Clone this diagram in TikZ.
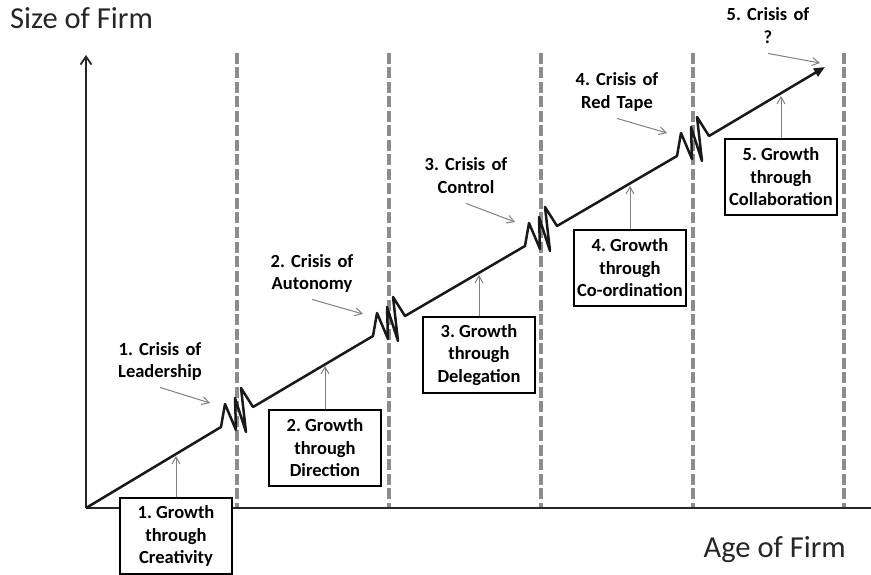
\documentclass[tikz,border=0pt]{standalone}
\usepackage{fontspec}
\setmainfont{Carlito}
\frenchspacing
\usetikzlibrary{arrows.meta}

\begin{document}
\begin{tikzpicture}
  [x=1pt,y=-1pt,
   axis/.style={line width=1.8pt,black!85},
   phase/.style={line width=3.5pt,black!45,dash pattern=on 11pt off 3.5pt},
   growth/.style={line width=2.5pt,black!90,line join=round},
   callout/.style={line width=1pt,black!50,-{Straight Barb[length=7pt,width=8pt]}},
   gbox/.style={draw,fill=white,line width=1.4pt,minimum width=112pt,minimum height=76pt,inner sep=2pt,align=center,font=\bfseries\fontsize{18.5}{22.5}\selectfont},
   crisis/.style={text width=100pt,align=center,anchor=base,inner sep=3pt,font=\bfseries\fontsize{18.5}{22.5}\selectfont,execute at end node=\strut},
   title/.style={inner sep=0pt,text=black!85,font=\fontsize{30.5}{36}\selectfont}]
  \useasboundingbox (0,0) rectangle (871,575);

  \node[title,anchor=base west] (ylab) at (10,29) {Size of Firm};
  \node[title,anchor=base east] (xlab) at (846,557) {Age of Firm};

  \foreach \x in {237,389,541,693,844}
    \draw[phase] (\x,53) -- (\x,508);

  \coordinate (O) at (86,508);
  \coordinate (ytop) at (86,55);
  \coordinate (xend) at (871,508);
  \draw[axis,-{Straight Barb[length=8pt,width=11pt]}] (O) -- (ytop);
  \draw[axis] (O) -- (xend);

  \coordinate (s1) at (221,427);
  \coordinate (s2) at (373,336);
  \coordinate (s3) at (525,246);
  \coordinate (s4) at (677,156);
  \coordinate (tip) at (825,67);
  \draw[growth,-{Triangle[length=11pt,width=9pt]}] (O)
    \foreach \i in {1,...,4}{ -- (s\i) -- ++(4,-23) -- ++(11,26) -- ++(-1,-32) -- ++(11,34) -- ++(-5,-44) -- ++(12,19)}
    -- (tip);

  \node[gbox] (g1) at (176,536) {1. Growth\\through\\Creativity};
  \node[gbox] (g2) at (325,448) {2. Growth\\through\\Direction};
  \node[gbox] (g3) at (479,355) {3. Growth\\through\\Delegation};
  \node[gbox] (g4) at (630,268) {4. Growth\\through\\Co-ordination};
  \node[gbox] (g5) at (781,177) {5. Growth\\through\\Collaboration};

  \coordinate (t1) at (176,456);
  \coordinate (t2) at (325,366);
  \coordinate (t3) at (479,275);
  \coordinate (t4) at (630,186);
  \coordinate (t5) at (781,96);
  \foreach \i in {1,...,5}
    \draw[callout] (g\i.north) -- (t\i);

  \node[crisis] (c1) at (160,355) {1. Crisis of\\Leadership};
  \node[crisis] (c2) at (312,267) {2. Crisis of\\Autonomy};
  \node[crisis] (c3) at (466,171) {3. Crisis of\\Control};
  \node[crisis] (c4) at (617,86) {4. Crisis of\\Red Tape};
  \node[crisis] (c5) at (768,21) {5. Crisis of\\?};

  \coordinate (k1) at (210,403);
  \coordinate (k2) at (363,314);
  \coordinate (k3) at (515,222);
  \coordinate (k4) at (667,133);
  \coordinate (k5) at (820,63);
  \foreach \i in {1,...,5}
    \draw[callout] (c\i.south) -- (k\i);
\end{tikzpicture}
\end{document}
